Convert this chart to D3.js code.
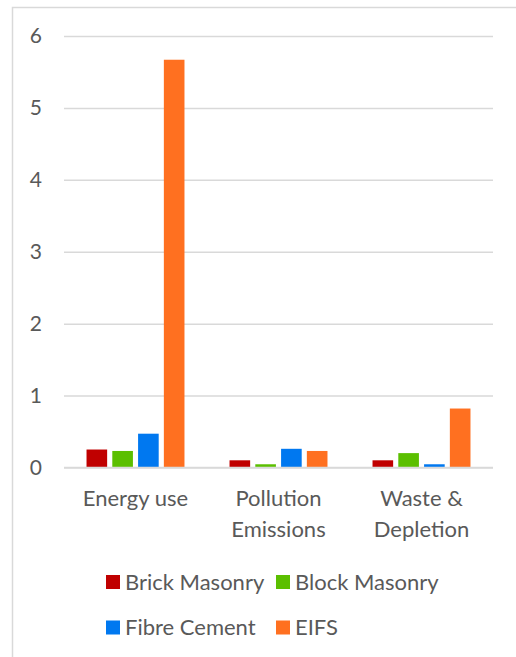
<!DOCTYPE html>
<html>
<head>
<meta charset="utf-8">
<script src="https://cdn.jsdelivr.net/npm/d3@7"></script>
<style>
  body { margin: 0; background: #fff; }
  text { font-family: Lato, "Open Sans", sans-serif; fill: #595959; }
</style>
</head>
<body>
<div id="chart"></div>
<script>
var categories = [["Energy use"], ["Pollution", "Emissions"], ["Waste &", "Depletion"]];
var seriesNames = ["Brick Masonry", "Block Masonry", "Fibre Cement", "EIFS"];
var brick = [0.25, 0.10, 0.10];
var block = [0.23, 0.045, 0.20];
var fibre = [0.47, 0.26, 0.045];
var eifs = [5.67, 0.23, 0.82];
var yTicks = [0, 1, 2, 3, 4, 5, 6];

var colors = ["#c00000", "#5bbf00", "#0078f0", "#ff7020"];
var seriesValues = [brick, block, fibre, eifs];

var width = 516;
var height = 657;
var fontSize = 22;

var svg = d3.select("#chart")
.append("svg")
.attr("width", width)
.attr("height", height);

// outer chart border (only top & left show in the crop)
svg.append("rect")
.attr("x", 12.5)
.attr("y", 7.5)
.attr("width", width + 20)
.attr("height", height + 20)
.attr("fill", "#fff")
.attr("stroke", "#d9d9d9")
.attr("stroke-width", 1.5);

var x0 = d3.scaleBand()
.domain(d3.range(categories.length))
.range([64, 493])
.paddingInner(0.315)
.paddingOuter(0.1575);

var x1 = d3.scaleBand()
.domain(d3.range(seriesNames.length))
.range([0, x0.bandwidth()])
.paddingInner(0.2);

var y = d3.scaleLinear()
.domain([0, 6])
.range([467.5, 36]);

// gridlines + tick labels
var yAxis = d3.axisLeft(y)
.tickValues(yTicks)
.tickSize(-(493 - 64))
.tickPadding(22)
.tickFormat(d3.format("d"));

var gy = svg.append("g")
.attr("transform", "translate(64,0)")
.call(yAxis);
gy.select(".domain").remove();
gy.selectAll(".tick line")
.attr("stroke", "#d9d9d9")
.attr("stroke-width", 1.5);
gy.selectAll(".tick text")
.attr("font-size", 21)
.attr("fill", "#595959")
.style("font-family", "Lato, 'Open Sans', sans-serif");

// bars
var groups = svg.selectAll("g.cat")
.data(categories)
.enter()
.append("g")
.attr("class", "cat")
.attr("transform", function(d, i){
    return "translate(" + x0(i) + ",0)";
});

groups.selectAll("rect")
.data(function(d, i){
    return seriesValues.map(function(s, j){ return {s: j, v: s[i]}; });
})
.enter()
.append("rect")
.attr("x", function(d){ return x1(d.s); })
.attr("y", function(d){ return y(d.v); })
.attr("width", x1.bandwidth())
.attr("height", function(d){ return y(0) - y(d.v); })
.attr("fill", function(d){ return colors[d.s]; });

// redraw zero line over bars
svg.append("line")
.attr("x1", 64)
.attr("x2", 493)
.attr("y1", y(0))
.attr("y2", y(0))
.attr("stroke", "#d9d9d9")
.attr("stroke-width", 1.5);

// category labels
var labels = svg.selectAll("text.cat")
.data(categories)
.enter()
.append("text")
.attr("class", "cat")
.attr("text-anchor", "middle")
.attr("font-size", fontSize)
.attr("x", function(d, i){ return x0(i) + x0.bandwidth() / 2; })
.attr("y", 506);

labels.selectAll("tspan")
.data(function(d){ return d; })
.enter()
.append("tspan")
.attr("x", function(){ return d3.select(this.parentNode).attr("x"); })
.attr("dy", function(d, i){ return i === 0 ? 0 : 31; })
.text(function(d){ return d; });

// legend
var legendPos = [[106, 575], [276, 575], [106, 620.5], [276, 620.5]];
var legend = svg.selectAll("g.legend")
.data(seriesNames)
.enter()
.append("g")
.attr("class", "legend")
.attr("transform", function(d, i){
    return "translate(" + legendPos[i][0] + "," + legendPos[i][1] + ")";
});

legend.append("rect")
.attr("width", 14)
.attr("height", 14)
.attr("fill", function(d, i){ return colors[i]; });

legend.append("text")
.attr("x", 19)
.attr("y", 14.5)
.attr("font-size", fontSize)
.text(function(d){ return d; });
</script>
</body>
</html>
